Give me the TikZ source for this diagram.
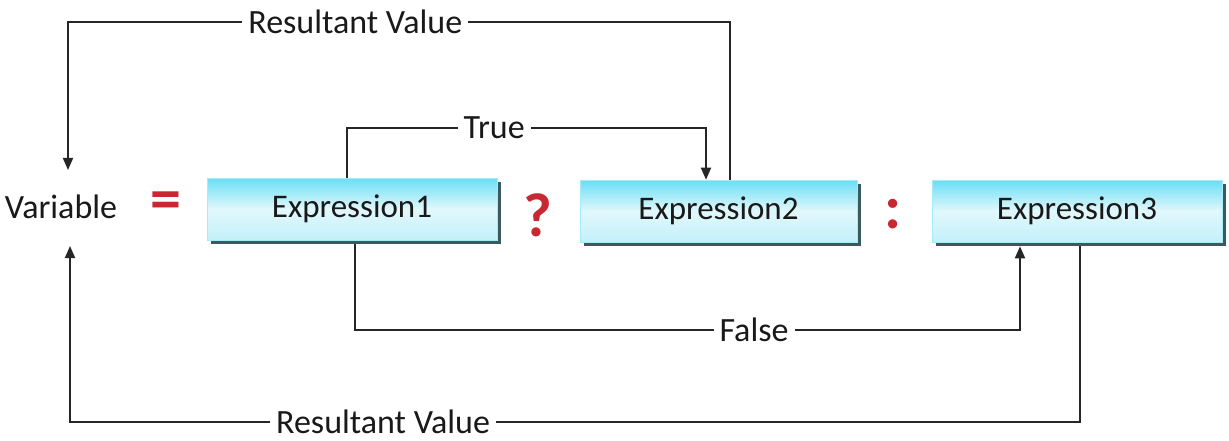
\documentclass[tikz,border=0pt]{standalone}
\usepackage{fontspec}
\setmainfont{Carlito}
\usetikzlibrary{arrows.meta,shadows}
\definecolor{boxtop}{RGB}{105,222,245}
\definecolor{boxmid}{RGB}{225,248,252}
\definecolor{boxbot}{RGB}{195,240,250}
\definecolor{shad}{RGB}{60,90,92}
\definecolor{opred}{RGB}{200,40,50}
\begin{document}
\begin{tikzpicture}[x=1pt,y=-1pt,
  exprbox/.style={rectangle, minimum height=62pt, inner sep=0pt,
    top color=boxtop, bottom color=boxbot, middle color=boxmid,
    draw=boxtop!60!white, line width=0.6pt,
    drop shadow={shadow xshift=4pt, shadow yshift=-4pt, fill=shad, opacity=1},
    font=\fontsize{33}{38}\selectfont, text=black!90},
  conn/.style={line width=1.8pt, black!85},
  arr/.style={conn, -{Triangle[length=12pt,width=10pt]}},
  lbl/.style={fill=white, inner xsep=6pt, inner ysep=0pt, text depth=0pt,
    font=\fontsize{34}{38}\selectfont, text=black!90},
  opsym/.style={text=opred, font=\bfseries\fontsize{62}{66}\selectfont, inner sep=0pt}]
\useasboundingbox (0,0) rectangle (1229,441);
\fill[white] (0,0) rectangle (1229,441);
% nodes
\node[exprbox, minimum width=290pt] (e1) at (352,209) {Expression1};
\node[exprbox, minimum width=277pt] (e2) at (718.5,211) {Expression2};
\node[exprbox, minimum width=290pt] (e3) at (1077,211) {Expression3};
\node[font=\fontsize{34}{38}\selectfont, text=black!90] (var) at (61,207) {Variable};
\node[opsym] (eq) at (166,206) {=};
\node[opsym] (q) at (538,215) {?};
\node[opsym] (col) at (893,214) {:};
% coordinates
\coordinate (tr) at (730,22);
\coordinate (tl) at (68,22);
\coordinate (vtop) at (68,170);
\coordinate (tt1) at (347,128);
\coordinate (tt2) at (706,128);
\coordinate (ff1) at (355,330);
\coordinate (ff2) at (1020,330);
\coordinate (br) at (1080,422);
\coordinate (bl) at (70,422);
\coordinate (vbot) at (70,246);
% connectors
\draw[arr] (e2.north -| tr) -- (tr) -- node[lbl, pos=0.566] (rv1) {Resultant Value} (tl) -- (vtop);
\draw[arr] (e1.north -| tt1) -- (tt1) -- node[lbl, pos=0.41] (tru) {True} (tt2) -- (e2.north -| tt2);
\draw[arr] ([yshift=-4pt]e1.south -| ff1) -- (ff1) -- node[lbl, pos=0.6] (fal) {False} (ff2) -- ([yshift=-4pt]e3.south -| ff2);
\draw[arr] ([yshift=-4pt]e3.south -| br) -- (br) -- node[lbl, pos=0.69] (rv2) {Resultant Value} (bl) -- (vbot);
\end{tikzpicture}
\end{document}
